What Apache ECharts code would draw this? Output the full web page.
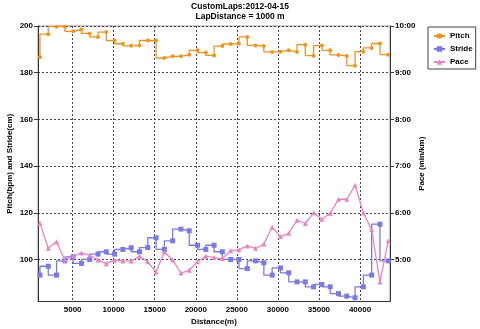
<!DOCTYPE html>
<html><head><meta charset="utf-8">
<script src="https://cdn.jsdelivr.net/npm/echarts@6/dist/echarts.min.js"></script>
<style>html,body{margin:0;padding:0;background:#fff}#c{width:480px;height:329px}</style>
</head><body><div id="c"></div>
<script>
// Lap end distances (m)
const distances = [1020,2030,3040,4050,5060,6070,7080,8090,9100,10110,11120,12130,13140,14150,15160,16170,17180,18190,19200,20210,21220,22230,23240,24250,25260,26270,27280,28290,29300,30310,31320,32330,33340,34350,35360,36370,37380,38390,39400,40410,41420,42430,43440];
// Pitch (bpm)
const pitch = [186.7,196.5,199.7,199.7,197.7,198.5,196.8,195.3,197.4,193.8,192.4,191.5,191.7,193.8,193.8,186.3,187,187,187.7,189.6,188.6,187.4,191.4,192.3,192.4,195.3,191.7,191.4,188.9,189,189.6,188.9,192,187.3,191.6,189.6,187.6,187.2,183,189,190.6,192.5,187.7];
// Stride (cm)
const stride = [93.3,97.1,93.3,99.4,101.1,98.3,100,102.3,103.3,102.3,104.3,105,103.3,105.1,109.3,104.3,108,113,112.3,106.1,104.3,106.1,103.3,100,100,96.1,99.4,98.6,93.3,96.4,94.3,90.4,90.4,88.3,89.3,88.3,85.4,84.3,83.6,88.3,93.3,115.1,99.4];
// Pace (min/km, decimal minutes)
const pace = [5.78,5.24,5.38,4.99,5.07,5.14,5.09,4.99,4.91,4.99,4.97,4.97,5.07,4.95,4.73,5.16,4.99,4.71,4.77,4.95,5.07,5.04,5.02,5.19,5.21,5.29,5.24,5.33,5.69,5.49,5.56,5.84,5.77,6.00,5.86,5.99,6.29,6.29,6.59,6.00,5.64,4.52,5.40];
// Tick values
const xTicks = [5000,10000,15000,20000,25000,30000,35000,40000];
const leftTicks = [100,120,140,160,180,200];
const paceTicks = [5,6,7,8,9,10];

const FONT = '"Liberation Sans", Arial, sans-serif';
const txt = {fontFamily: FONT, fontWeight: 'bold', fontSize: 8, color: '#000'};
const gridLine = {show: true, lineStyle: {color: '#444', type: [2, 2], width: 1}};
const axLine = {show: true, lineStyle: {color: '#333', width: 1}};

function pair(a){ return distances.map((d,i)=>[d,a[i]]); }
function fmtPace(v){ const m=Math.floor(v+1e-9); const s=Math.round((v-m)*60); return m+':'+(s<10?'0':'')+s; }

const chart = echarts.init(document.getElementById('c'), null, {renderer: 'canvas'});
chart.setOption({
  animation: false,
  backgroundColor: '#fff',
  title: {
    text: 'CustomLaps:2012-04-15\nLapDistance = 1000 m',
    left: 'center', top: 1, padding: 0,
    textStyle: {fontFamily: FONT, fontWeight: 'bold', fontSize: 8.5, lineHeight: 10.5, color: '#000'}
  },
  legend: {
    orient: 'vertical', left: 428, top: 27,
    padding: [4, 3, 2, 5],
    itemWidth: 11, itemHeight: 7, itemGap: 3,
    borderColor: '#444', borderWidth: 1, backgroundColor: '#fff',
    textStyle: Object.assign({}, txt, {lineHeight: 10}),
    data: ['Pitch', 'Stride', 'Pace']
  },
  grid: {left: 38, right: 90, top: 26, bottom: 27.5, containLabel: false, outerBoundsMode: 'none', show: true, borderColor: '#999', borderWidth: 1},
  xAxis: {
    type: 'value', min: 780, max: 43654,
    name: 'Distance(m)', nameLocation: 'middle', nameGap: 16, nameMoveOverlap: false, nameTextStyle: txt,
    axisLine: axLine,
    axisTick: {show: false, customValues: xTicks},
    axisLabel: Object.assign({}, txt, {margin: 4, customValues: xTicks, formatter: v => String(v)}),
    splitLine: gridLine
  },
  yAxis: [{
    type: 'value', min: 82, max: 200, position: 'left',
    name: 'Pitch(bpm) and Stride(cm)', nameLocation: 'middle', nameGap: 24, nameRotate: 90, nameMoveOverlap: false, nameTextStyle: txt,
    axisLine: axLine,
    axisTick: {show: true, length: 4, lineStyle: {color: '#333'}, customValues: leftTicks},
    axisLabel: Object.assign({}, txt, {margin: 5, customValues: leftTicks}),
    splitLine: gridLine
  }, {
    type: 'value', min: 4.1, max: 10, position: 'right',
    name: 'Pace (min/km)', nameLocation: 'middle', nameGap: 28, nameRotate: 90, nameMoveOverlap: false, nameTextStyle: txt,
    axisLine: axLine,
    axisTick: {show: true, length: 4, lineStyle: {color: '#333'}, customValues: paceTicks},
    axisLabel: Object.assign({}, txt, {margin: 5, customValues: paceTicks, formatter: fmtPace}),
    splitLine: {show: false}
  }],
  series: [{
    name: 'Pitch', type: 'line', yAxisIndex: 0, step: 'start',
    data: pair(pitch),
    symbol: 'circle', symbolSize: 4,
    itemStyle: {color: '#ee951f'},
    lineStyle: {color: '#ee951f', width: 1.3}
  }, {
    name: 'Stride', type: 'line', yAxisIndex: 0, step: 'start',
    data: pair(stride),
    symbol: 'rect', symbolSize: 5,
    itemStyle: {color: '#7a7ae6'},
    lineStyle: {color: '#7a7ae6', width: 1.3}
  }, {
    name: 'Pace', type: 'line', yAxisIndex: 1,
    data: pair(pace),
    symbol: 'triangle', symbolSize: 5,
    itemStyle: {color: '#e585c2'},
    lineStyle: {color: '#e585c2', width: 1.3}
  }]
});
</script>
</body></html>
